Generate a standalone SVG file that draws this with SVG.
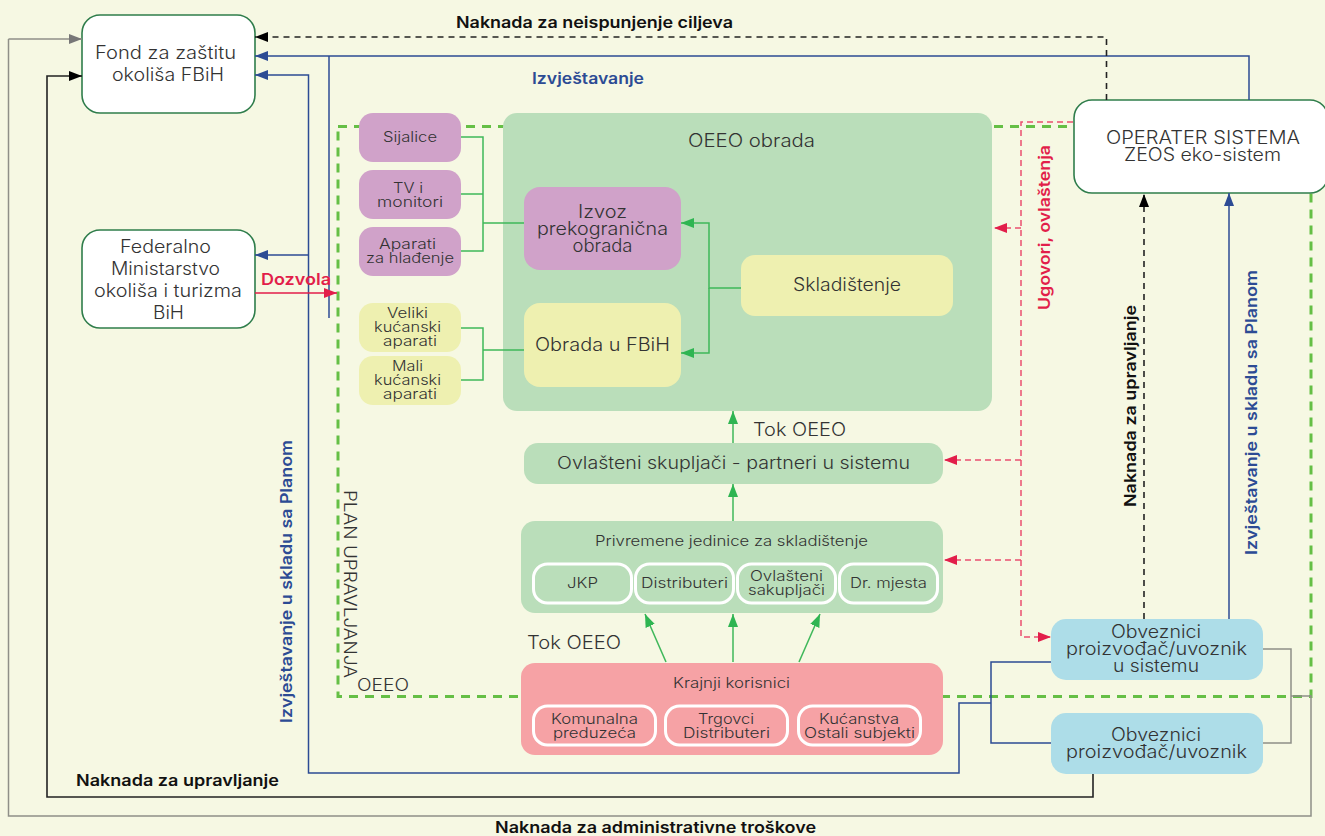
<svg xmlns="http://www.w3.org/2000/svg" width="1325" height="836" viewBox="0 0 1325 836">
<style>
text{font-family:"Inter","Liberation Sans",sans-serif;font-weight:300;fill:#333;text-anchor:middle}
.b{font-weight:600;fill:#111}
.bl{font-weight:600;fill:#2c4b94}
.r{font-weight:600;fill:#e21e4a}
.s18{font-size:18px}.s17{font-size:17px}.s14{font-size:14px}.s16{font-size:16px}
.l{fill:none;stroke-linejoin:miter}
.box{fill:#fff;stroke:#2f7d4b;stroke-width:1.6}
.in{fill:none;stroke:#fff;stroke-width:3}
.n{stroke:#2c4b94;stroke-width:1.5}
.k{stroke:#222;stroke-width:1.6}
.g{stroke:#8f8f88;stroke-width:1.5}
.gr{stroke:#3fb85a;stroke-width:1.5}
.kd{stroke:#222;stroke-width:1.6;stroke-dasharray:6 5}
.rd{stroke:#ea4f70;stroke-width:1.5;stroke-dasharray:6 4}
.red{stroke:#e21e4a;stroke-width:1.6}
.gd{fill:none;stroke:#65bf45;stroke-width:3;stroke-dasharray:9 7}
</style>
<defs>
<marker id="aN" markerUnits="userSpaceOnUse" markerWidth="14" markerHeight="12" refX="13" refY="6" orient="auto"><path d="M0 1L13 6L0 11z" fill="#2c4b94"/></marker>
<marker id="aK" markerUnits="userSpaceOnUse" markerWidth="14" markerHeight="12" refX="13" refY="6" orient="auto"><path d="M0 1L13 6L0 11z" fill="#000"/></marker>
<marker id="aG" markerUnits="userSpaceOnUse" markerWidth="14" markerHeight="12" refX="13" refY="6" orient="auto"><path d="M0 1L13 6L0 11z" fill="#777"/></marker>
<marker id="aR" markerUnits="userSpaceOnUse" markerWidth="14" markerHeight="12" refX="13" refY="6" orient="auto"><path d="M0 1L13 6L0 11z" fill="#e21e4a"/></marker>
<marker id="aV" markerUnits="userSpaceOnUse" markerWidth="14" markerHeight="12" refX="13" refY="6" orient="auto"><path d="M0 1L13 6L0 11z" fill="#2fb552"/></marker>
</defs>
<rect width="1325" height="836" fill="#f6f8e3"/>
<rect id="boundary-oeeo" class="gd" x="338" y="126.500" width="973" height="570"/>
<g id="fond"><rect class="box" x="82" y="15" width="173" height="98" rx="18"/>
<text class="s18"><tspan x="165.500" y="59" textLength="141" lengthAdjust="spacingAndGlyphs">Fond za zaštitu</tspan><tspan x="168" y="81" textLength="112" lengthAdjust="spacingAndGlyphs">okoliša FBiH</tspan></text></g>
<g id="ministarstvo"><rect class="box" x="82" y="230" width="173" height="98" rx="18"/>
<text class="s18"><tspan x="165.500" y="253" textLength="91" lengthAdjust="spacingAndGlyphs">Federalno</tspan><tspan x="165.500" y="275" textLength="109" lengthAdjust="spacingAndGlyphs">Ministarstvo</tspan><tspan x="168" y="297" textLength="148" lengthAdjust="spacingAndGlyphs">okoliša i turizma</tspan><tspan x="168.500" y="319" textLength="31" lengthAdjust="spacingAndGlyphs">BiH</tspan></text></g>
<g id="operater"><rect class="box" x="1074" y="100" width="254" height="93" rx="18"/>
<text class="s18"><tspan x="1203" y="144" textLength="194" lengthAdjust="spacingAndGlyphs">OPERATER SISTEMA</tspan><tspan x="1202.500" y="161" textLength="157" lengthAdjust="spacingAndGlyphs">ZEOS eko-sistem</tspan></text></g>
<g id="obrada-oeeo"><rect x="503" y="113" width="489" height="298" rx="14" fill="#badeba"/>
<text class="s18" x="751.500" y="147" textLength="127" lengthAdjust="spacingAndGlyphs">OEEO obrada</text></g>
<g id="sijalice"><rect x="359" y="113" width="102" height="49" rx="14" fill="#d0a2c9"/><text class="s14" x="410" y="142" textLength="54" lengthAdjust="spacingAndGlyphs">Sijalice</text></g>
<g id="tv"><rect x="359" y="170" width="102" height="49" rx="14" fill="#d0a2c9"/><text class="s14"><tspan x="408" y="193" textLength="30" lengthAdjust="spacingAndGlyphs">TV i</tspan><tspan x="410" y="207" textLength="66" lengthAdjust="spacingAndGlyphs">monitori</tspan></text></g>
<g id="aparati-hladjenje"><rect x="359" y="227" width="102" height="49" rx="14" fill="#d0a2c9"/><text class="s14"><tspan x="407.500" y="249" textLength="57" lengthAdjust="spacingAndGlyphs">Aparati</tspan><tspan x="410" y="263" textLength="88" lengthAdjust="spacingAndGlyphs">za hlađenje</tspan></text></g>
<g id="veliki"><rect x="359" y="303" width="102" height="49" rx="14" fill="#eef0b0"/><text class="s14"><tspan x="407.500" y="318" textLength="41" lengthAdjust="spacingAndGlyphs">Veliki</tspan><tspan x="407.500" y="332" textLength="67" lengthAdjust="spacingAndGlyphs">kućanski</tspan><tspan x="410" y="346" textLength="54" lengthAdjust="spacingAndGlyphs">aparati</tspan></text></g>
<g id="mali"><rect x="359" y="356" width="102" height="49" rx="14" fill="#eef0b0"/><text class="s14"><tspan x="407.500" y="371" textLength="31" lengthAdjust="spacingAndGlyphs">Mali</tspan><tspan x="407.500" y="385" textLength="67" lengthAdjust="spacingAndGlyphs">kućanski</tspan><tspan x="410" y="399" textLength="54" lengthAdjust="spacingAndGlyphs">aparati</tspan></text></g>
<g id="izvoz"><rect x="524" y="187" width="157" height="83" rx="16" fill="#d0a2c9"/><text class="s18"><tspan x="602.500" y="218" textLength="49" lengthAdjust="spacingAndGlyphs">Izvoz</tspan><tspan x="602.500" y="235" textLength="131" lengthAdjust="spacingAndGlyphs">prekogranična</tspan><tspan x="602.500" y="252" textLength="60" lengthAdjust="spacingAndGlyphs">obrada</tspan></text></g>
<g id="obrada-fbih"><rect x="524" y="303" width="157" height="84" rx="16" fill="#eef0b0"/><text class="s18" x="602.500" y="351" textLength="135" lengthAdjust="spacingAndGlyphs">Obrada u FBiH</text></g>
<g id="skladistenje"><rect x="741" y="255" width="212" height="61" rx="14" fill="#eef0b0"/><text class="s18" x="847" y="291" textLength="108" lengthAdjust="spacingAndGlyphs">Skladištenje</text></g>
<g id="skupljaci"><rect x="524" y="443" width="419" height="41" rx="14" fill="#badeba"/><text class="s17" x="733.500" y="469" textLength="353" lengthAdjust="spacingAndGlyphs">Ovlašteni skupljači - partneri u sistemu</text></g>
<g id="privremene"><rect x="521" y="521" width="422" height="92" rx="14" fill="#badeba"/><text class="s14" x="731.500" y="546" textLength="273" lengthAdjust="spacingAndGlyphs">Privremene jedinice za skladištenje</text>
<rect class="in" x="533.500" y="564" width="98" height="39" rx="14"/><text class="s14" x="582.500" y="588" textLength="31" lengthAdjust="spacingAndGlyphs">JKP</text>
<rect class="in" x="635.500" y="564" width="98" height="39" rx="14"/><text class="s14" x="684.500" y="588" textLength="87" lengthAdjust="spacingAndGlyphs">Distributeri</text>
<rect class="in" x="737.500" y="564" width="98" height="39" rx="14"/><text class="s14"><tspan x="786.500" y="581" textLength="73" lengthAdjust="spacingAndGlyphs">Ovlašteni</tspan><tspan x="786.500" y="595" textLength="77" lengthAdjust="spacingAndGlyphs">sakupljači</tspan></text>
<rect class="in" x="839.500" y="564" width="98" height="39" rx="14"/><text class="s14" x="888.500" y="588" textLength="77" lengthAdjust="spacingAndGlyphs">Dr. mjesta</text></g>
<g id="krajnji"><rect x="521" y="663" width="422" height="92" rx="14" fill="#f6a2a5"/><text class="s14" x="731.500" y="688" textLength="117" lengthAdjust="spacingAndGlyphs">Krajnji korisnici</text>
<rect class="in" x="533.500" y="706" width="122" height="39" rx="14"/><text class="s14"><tspan x="594.500" y="724" textLength="87" lengthAdjust="spacingAndGlyphs">Komunalna</tspan><tspan x="594.500" y="738" textLength="83" lengthAdjust="spacingAndGlyphs">preduzeća</tspan></text>
<rect class="in" x="665.500" y="706" width="122" height="39" rx="14"/><text class="s14"><tspan x="726" y="724" textLength="56" lengthAdjust="spacingAndGlyphs">Trgovci</tspan><tspan x="726.500" y="738" textLength="87" lengthAdjust="spacingAndGlyphs">Distributeri</tspan></text>
<rect class="in" x="798.500" y="706" width="122" height="39" rx="14"/><text class="s14"><tspan x="859" y="724" textLength="80" lengthAdjust="spacingAndGlyphs">Kućanstva</tspan><tspan x="859.500" y="738" textLength="111" lengthAdjust="spacingAndGlyphs">Ostali subjekti</tspan></text></g>
<g id="obveznici-sistem"><rect x="1051" y="619" width="212" height="61" rx="15" fill="#addde8"/><text class="s18"><tspan x="1156" y="638" textLength="90" lengthAdjust="spacingAndGlyphs">Obveznici</tspan><tspan x="1156.500" y="655" textLength="181" lengthAdjust="spacingAndGlyphs">proizvođač/uvoznik</tspan><tspan x="1156" y="672" textLength="86" lengthAdjust="spacingAndGlyphs">u sistemu</tspan></text></g>
<g id="obveznici"><rect x="1051" y="713" width="212" height="61" rx="15" fill="#addde8"/><text class="s18"><tspan x="1156" y="741" textLength="90" lengthAdjust="spacingAndGlyphs">Obveznici</tspan><tspan x="1156.500" y="758" textLength="181" lengthAdjust="spacingAndGlyphs">proizvođač/uvoznik</tspan></text></g>
<g id="connectors">
<path class="l g" d="M8.500 39V816H1311V696H1291"/>
<path class="l g" d="M1263 649H1291V743H1263"/>
<path class="l g" d="M8.500 39H82" marker-end="url(#aG)"/>
<path class="l k" d="M1093 774V797H47V76H82" marker-end="url(#aK)"/>
<path class="l n" d="M1051 662H991V743H1051M991 703H959V773H308.500V75H255" marker-end="url(#aN)"/>
<path class="l n" d="M308.500 255H255" marker-end="url(#aN)"/>
<path class="l n" d="M1249 100V56H255" marker-end="url(#aN)"/>
<path class="l n" d="M329 56V318"/>
<path class="l kd" d="M1106.500 100V37H255" marker-end="url(#aK)"/>
<path class="l red" d="M255 293H337" marker-end="url(#aR)"/>
<path class="l rd" d="M1073 122H1021V637H1051" marker-end="url(#aR)"/>
<path class="l rd" d="M1021 228H994" marker-end="url(#aR)"/>
<path class="l rd" d="M1021 460H944" marker-end="url(#aR)"/>
<path class="l rd" d="M1021 560H944" marker-end="url(#aR)"/>
<path class="l kd" d="M1144 619V194" marker-end="url(#aK)"/>
<path class="l n" d="M1229 619V193" marker-end="url(#aN)"/>
<path class="l gr" d="M461 137H483V251H461M461 194H483M483 223H524M461 328H483V380H461M483 350H524"/>
<path class="l gr" d="M741 288H709V223H681" marker-end="url(#aV)"/>
<path class="l gr" d="M709 288V353H681" marker-end="url(#aV)"/>
<path class="l gr" d="M733 443V411" marker-end="url(#aV)"/>
<path class="l gr" d="M733 521V484" marker-end="url(#aV)"/>
<path class="l gr" d="M666 662L645 614" marker-end="url(#aV)"/>
<path class="l gr" d="M733 662V614" marker-end="url(#aV)"/>
<path class="l gr" d="M799 662L820 614" marker-end="url(#aV)"/>
</g>
<g id="labels">
<text class="b s16" x="594.500" y="28" textLength="277" lengthAdjust="spacingAndGlyphs">Naknada za neispunjenje ciljeva</text>
<text class="bl s16" x="588" y="84" textLength="112" lengthAdjust="spacingAndGlyphs">Izvještavanje</text>
<text class="r s16" x="296" y="285" textLength="70" lengthAdjust="spacingAndGlyphs">Dozvola</text>
<text class="b s16" x="177.500" y="786" textLength="203" lengthAdjust="spacingAndGlyphs">Naknada za upravljanje</text>
<text class="b s16" x="655.500" y="833" textLength="321" lengthAdjust="spacingAndGlyphs">Naknada za administrativne troškove</text>
<text class="s18" x="799.500" y="436" textLength="93" lengthAdjust="spacingAndGlyphs">Tok OEEO</text>
<text class="s18" x="574" y="649" textLength="94" lengthAdjust="spacingAndGlyphs">Tok OEEO</text>
<text class="s17" x="383" y="691" textLength="52" lengthAdjust="spacingAndGlyphs">OEEO</text>
<text class="bl s16" transform="translate(292 581.500) rotate(-90)" textLength="283" lengthAdjust="spacingAndGlyphs">Izvještavanje u skladu sa Planom</text>
<text class="bl s16" transform="translate(1257 412.500) rotate(-90)" textLength="285" lengthAdjust="spacingAndGlyphs">Izvještavanje u skladu sa Planom</text>
<text class="b s16" transform="translate(1136 406) rotate(-90)" textLength="202" lengthAdjust="spacingAndGlyphs">Naknada za upravljanje</text>
<text class="r s16" transform="translate(1050 227.500) rotate(-90)" textLength="165" lengthAdjust="spacingAndGlyphs">Ugovori, ovlaštenja</text>
<text class="s17" transform="translate(344 584) rotate(90)" textLength="188" lengthAdjust="spacingAndGlyphs">PLAN UPRAVLJANJA</text>
</g>
</svg>
